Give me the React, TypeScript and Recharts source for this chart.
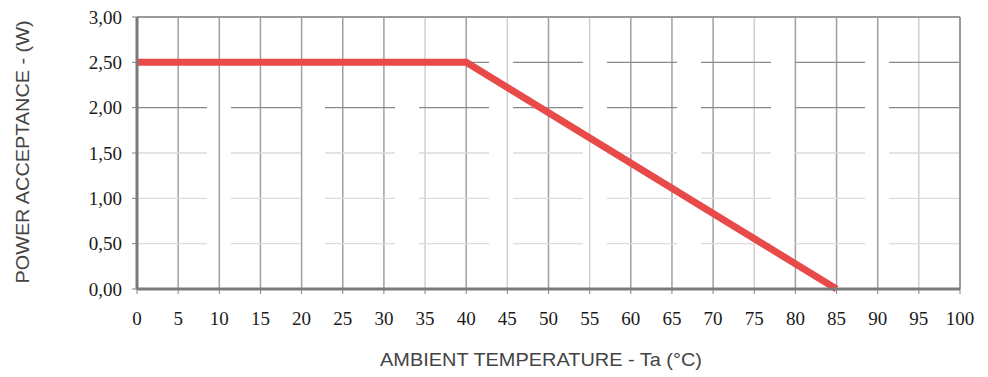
import React from 'react';
import { LineChart, Line, XAxis, YAxis, ReferenceLine, Label } from 'recharts';

const temperature = [0, 40, 85];
const power = [2.5, 2.5, 0];
const xTicks = [0, 5, 10, 15, 20, 25, 30, 35, 40, 45, 50, 55, 60, 65, 70, 75, 80, 85, 90, 95, 100];
const yTicks = [0, 0.5, 1, 1.5, 2, 2.5, 3];
const xTitle = 'AMBIENT TEMPERATURE - Ta (°C)';
const yTitle = 'POWER ACCEPTANCE - (W)';

const data = temperature.map((t, i) => ({ t, p: power[i] }));

const lightVerticals = [35, 45, 55, 75, 95];
const darkHorizontals = [2, 2.5];

const serif = '"Liberation Serif", "DejaVu Serif", serif';
const sans = '"Liberation Sans", Arial, sans-serif';

const fmt = (v: number) => v.toFixed(2).replace('.', ',');

export default function App() {
  return (
    <div style={{ position: 'absolute', left: 0, top: 0, width: 988, height: 377, background: '#fff' }}>
      <LineChart width={988} height={377} data={data} margin={{ top: 17, right: 28, left: 0, bottom: 0 }}>
        {xTicks.filter((v) => v > 0 && v < 100).map((v) => (
          <ReferenceLine key={'v' + v} x={v} stroke={lightVerticals.includes(v) ? '#d0d0d0' : '#a0a0a0'} strokeWidth={1.5} ifOverflow="visible" />
        ))}
        {yTicks.filter((v) => v > 0 && v < 3).map((v) => (
          <ReferenceLine key={'h' + v} y={v} stroke={darkHorizontals.includes(v) ? '#8a8a8a' : '#dcdcdc'} strokeWidth={1.3} strokeDasharray="70 24" />
        ))}
        <ReferenceLine y={3} stroke="#9a9a9a" strokeWidth={2} />
        <ReferenceLine x={100} stroke="#9a9a9a" strokeWidth={2} />
        <XAxis
          dataKey="t"
          type="number"
          domain={[0, 100]}
          ticks={xTicks}
          interval={0}
          height={88}
          stroke="#7a7a7a"
          strokeWidth={3}
          tickSize={5}
          tickMargin={18}
          tick={{ fill: '#1a1a1a', fontSize: 19, fontFamily: serif }}
          tickLine={{ stroke: '#808080', strokeWidth: 1 }}
        >
          <Label
            content={() => (
              <text x={541} y={366} textAnchor="middle" fill="#444" fontSize={19} fontFamily={sans} textLength={322} lengthAdjust="spacingAndGlyphs">
                {xTitle}
              </text>
            )}
          />
        </XAxis>
        <YAxis
          type="number"
          domain={[0, 3]}
          ticks={yTicks}
          interval={0}
          width={137}
          stroke="#7a7a7a"
          strokeWidth={3}
          tickSize={5}
          tickMargin={10}
          tickFormatter={fmt}
          tick={{ fill: '#1a1a1a', fontSize: 19, fontFamily: serif }}
          tickLine={{ stroke: '#808080', strokeWidth: 1 }}
        >
          <Label
            content={() => (
              <text transform="rotate(-90, 29, 152)" x={29} y={152} textAnchor="middle" fill="#444" fontSize={19} fontFamily={sans} textLength={263} lengthAdjust="spacingAndGlyphs">
                {yTitle}
              </text>
            )}
          />
        </YAxis>
        <Line dataKey="p" type="linear" stroke="#e84a4a" strokeWidth={7} dot={false} isAnimationActive={false} />
      </LineChart>
    </div>
  );
}
